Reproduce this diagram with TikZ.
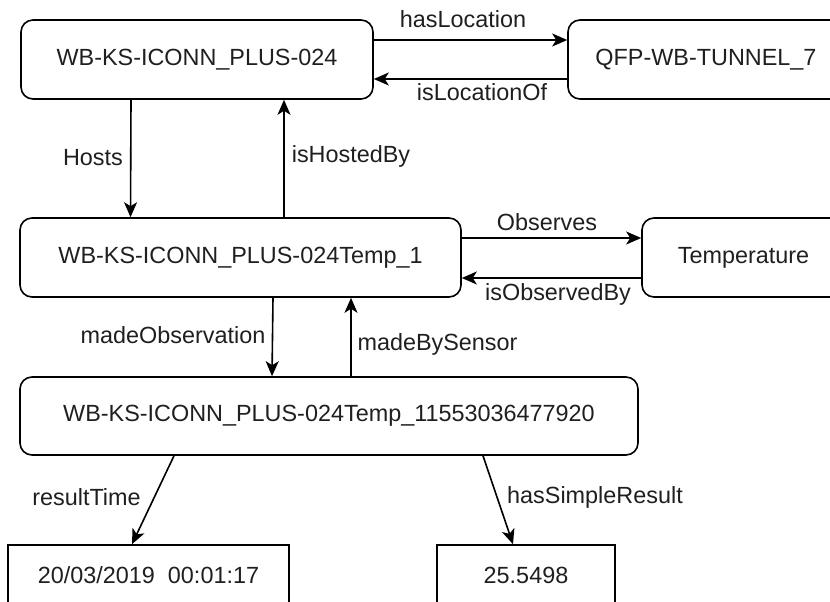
\documentclass[tikz,border=0pt]{standalone}
\usepackage{fontspec}
\setmainfont{Liberation Sans}
\usetikzlibrary{arrows.meta}
\begin{document}
\begin{tikzpicture}[x=1pt,y=-1pt,
  every node/.style={font=\fontsize{23.4}{28}\selectfont, text=black!88},
  entity/.style={draw, line width=1.6pt, rounded corners=12pt, inner sep=0pt, minimum height=79pt},
  literal/.style={draw, line width=1.6pt, inner sep=0pt, minimum height=60pt},
  lbl/.style={anchor=base, inner sep=0pt},
  rel/.style={line width=1.6pt, -{Stealth[length=15pt,width=13pt,inset=4pt]}}
]
\useasboundingbox (0,0) rectangle (830,602);

% resources
\node[entity, minimum width=352pt] (dev)  at (197,59.5)  {WB-KS-ICONN\_PLUS-024};
\node[entity, minimum width=276pt] (loc)  at (706,59.5)  {QFP-WB-TUNNEL\_7};
\node[entity, minimum width=441pt] (sens) at (240.5,257.5) {WB-KS-ICONN\_PLUS-024Temp\_1};
\node[entity, minimum width=203pt] (prop) at (743.5,257.5) {Temperature};
\node[entity, minimum width=618pt, minimum height=78pt] (obs) at (329,416) {WB-KS-ICONN\_PLUS-024Temp\_11553036477920};

% literal values
\node[literal, minimum width=281pt] (time) at (148.5,575) {20/03/2019~~00:01:17};
\node[literal, minimum width=178pt] (val)  at (526,575)   {25.5498};

% relations
\draw[rel] ([yshift=19.5pt]dev.east) -- ([yshift=19.5pt]loc.west);
\draw[rel] ([yshift=-19.5pt]loc.west) -- ([yshift=-19.5pt]dev.east);
\draw[rel] ([xshift=-66pt]dev.south) -- ([xshift=-110pt]sens.north);
\draw[rel] ([xshift=43.5pt]sens.north) -- ([xshift=87pt]dev.south);
\draw[rel] ([yshift=19.5pt]sens.east) -- ([yshift=19.5pt]prop.west);
\draw[rel] ([yshift=-20.5pt]prop.west) -- ([yshift=-20.5pt]sens.east);
\draw[rel] ([xshift=32.5pt]sens.south) -- ([xshift=-57pt]obs.north);
\draw[rel] ([xshift=22pt]obs.north) -- ([xshift=110.5pt]sens.south);
\draw[rel] ([xshift=-155pt]obs.south) -- ([xshift=-16.5pt]time.north);
\draw[rel] ([xshift=154pt]obs.south) -- ([xshift=-13pt]val.north);

% relation labels
\node[lbl] (lHasLoc)  at (463,28)    {hasLocation};
\node[lbl] (lIsLoc)   at (482,100)   {isLocationOf};
\node[lbl] (lHosts)   at (93,165)    {Hosts};
\node[lbl] (lHosted)  at (351,162)   {isHostedBy};
\node[lbl] (lObs)     at (547,230)   {Observes};
\node[lbl] (lObsBy)   at (558,300)   {isObservedBy};
\node[lbl] (lMadeObs) at (173,343)   {madeObservation};
\node[lbl] (lMadeBy)  at (437.5,350) {madeBySensor};
\node[lbl] (lTime)    at (86.5,505)  {resultTime};
\node[lbl] (lResult)  at (595,503)   {hasSimpleResult};
\end{tikzpicture}
\end{document}
